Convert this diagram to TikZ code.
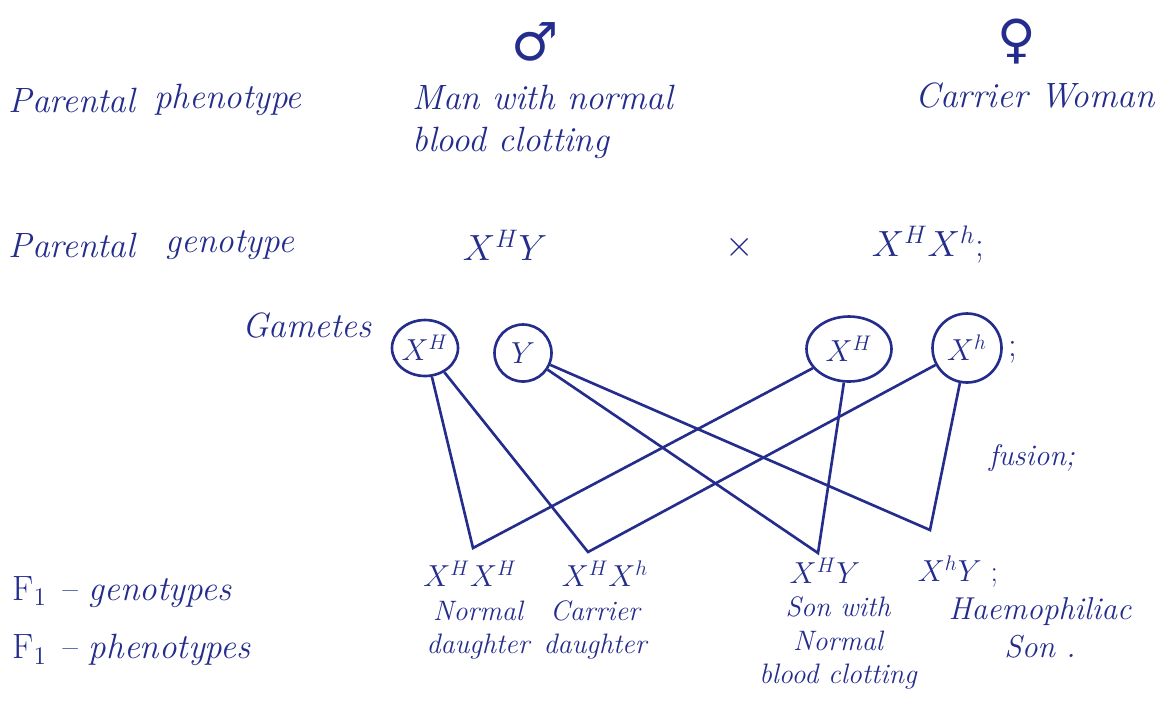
\documentclass[tikz,border=0pt]{standalone}
\usepackage{fontspec}
\usepackage{amsmath}
\usepackage{xcolor}
\usepackage{tikz}
\usetikzlibrary{shapes.geometric, positioning}
\newfontfamily\signfont{DejaVu Sans}
\definecolor{ink}{RGB}{36,44,140}

\begin{document}
\begin{tikzpicture}[
    x=0.02cm, y=-0.02cm,
    hand/.style={text=ink, inner sep=0pt, font=\fontsize{20}{24}\selectfont\itshape},
    small/.style={text=ink, inner sep=0pt, align=center, font=\fontsize{16}{19}\selectfont\itshape},
    geno/.style={text=ink, inner sep=0pt, font=\fontsize{20}{24}\selectfont},
    sign/.style={text=ink, inner sep=0pt, font=\fontsize{30}{32}\signfont},
    gamete/.style={ellipse, draw=ink, line width=1.5pt, inner sep=0pt, text=ink, font=\fontsize{18}{20}\selectfont},
    fuse/.style={ink, line width=1.5pt}
]
\useasboundingbox (0,0) rectangle (1166,708);

% Sex symbols
\node[sign] (male) at (535,42) {♂};
\node[sign] (female) at (1017,42) {♀};

% Row labels
\node[hand] (phPar) at (72,100) {Parental};
\node[hand] (phText) at (228,100) {phenotype};
\node[hand] (gePar) at (72,245) {Parental};
\node[hand] (geText) at (230,245) {genotype};
\node[hand] (gamLbl) at (307,325) {Gametes};
\node[hand, anchor=west] (fGeno) at (12,592) {{\upshape F}$_1$ -- genotypes};
\node[hand, anchor=west] (fPheno) at (12,650) {{\upshape F}$_1$ -- phenotypes};

% Parents
\node[hand, align=left, anchor=west] (man) at (412,122) {Man with normal\\blood clotting};
\node[hand] (woman) at (1035,95) {Carrier Woman};
\node[geno] (manGeno) at (505,245) {$X^{H}Y$};
\node[geno] (cross) at (740,247) {$\times$};
\node[geno] (womanGeno) at (928,245) {$X^{H}X^{h}$;};

% Gametes
\node[gamete, minimum width=1.28cm, minimum height=1.12cm] (gmH) at (425,348) {$X^{H}$};
\node[gamete, minimum width=1.14cm, minimum height=1.14cm] (gmY) at (523,353) {$Y$};
\node[gamete, minimum width=1.7cm, minimum height=1.3cm] (gfH) at (849,349) {$X^{H}$};
\node[gamete, minimum width=1.38cm, minimum height=1.38cm] (gfh) at (967,348) {$X^{h}$};
\node[geno] (semi) at (1013,352) {;};
\node[small, font=\fontsize{17}{19}\selectfont\itshape] (fusion) at (1032,458) {fusion;};

% Fusion points
\coordinate (vHH) at (473,548);
\coordinate (vHh) at (588,552);
\coordinate (vHY) at (818,553);
\coordinate (vhY) at (930,530);

\draw[fuse] (gmH) -- (vHH) -- (gfH);
\draw[fuse] (gmH) -- (vHh) -- (gfh);
\draw[fuse] (gmY) -- (vHY) -- (gfH);
\draw[fuse] (gmY) -- (vhY) -- (gfh);

% Offspring
\node[geno, font=\fontsize{17}{19}\selectfont] (oHH) at (470,574) {$X^{H}X^{H}$};
\node[geno, font=\fontsize{17}{19}\selectfont] (oHh) at (605,574) {$X^{H}X^{h}$};
\node[geno, font=\fontsize{17}{19}\selectfont] (oHY) at (825,571) {$X^{H}Y$};
\node[geno, font=\fontsize{17}{19}\selectfont] (ohY) at (958,572) {$X^{h}Y$ ;};

\node[small] (pHH) at (478,630) {Normal\\daughter};
\node[small] (pHh) at (595,630) {Carrier\\daughter};
\node[small] (pHY) at (838,643) {Son with\\Normal\\blood clotting};
\node[small, font=\fontsize{18}{22}\selectfont\itshape] (phY) at (1040,628) {Haemophiliac\\Son .};

\end{tikzpicture}
\end{document}
